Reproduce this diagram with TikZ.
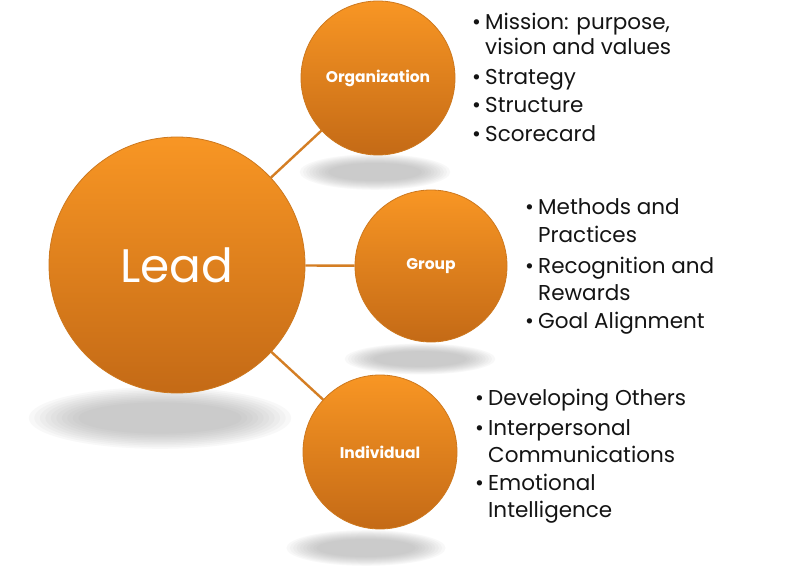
\documentclass[tikz,border=0pt]{standalone}
\usepackage{fontspec}
\setmainfont{Poppins}
\usetikzlibrary{shapes.geometric}
\definecolor{orTop}{RGB}{248,150,36}
\definecolor{orBot}{RGB}{196,106,22}
\definecolor{orEdge}{RGB}{205,120,30}
\definecolor{orLine}{RGB}{212,126,36}
\newcommand{\mysoftshadow}[4]{%
  \foreach \k in {1,...,10}{%
    \fill[black!38, opacity=0.065] (#1,#2) ellipse ({#3*(1.12-0.045*\k)} and {#4*(1.25-0.065*\k)});}}
\tikzset{
  bubble/.style={circle, inner sep=0pt, top color=orTop, bottom color=orBot, draw=orEdge, line width=0.8pt, text=white},
  link/.style={draw=orLine, line width=2.4pt},
  blabel/.style={font=\fontsize{15.5}{18}\selectfont\bfseries},
  item/.style={anchor=base west, align=left, inner sep=0pt, text=black!92}
}
\newcommand{\bul}{\makebox[13pt][l]{•}}
\newcommand{\ind}{\hspace*{13pt}}
\begin{document}
\begin{tikzpicture}[x=1pt,y=-1pt]
\fill[white] (0,0) rectangle (800,577);
\useasboundingbox (0,0) rectangle (800,577);
% shadows
\mysoftshadow{160}{418}{122}{26}
\mysoftshadow{375}{172}{70}{15}
\mysoftshadow{420}{359}{70}{13}
\mysoftshadow{366}{548}{74}{15}
% circles
\node[bubble, minimum size=256pt, font=\fontsize{47}{50}\selectfont] (lead) at (177,265) {Lead};
\node[bubble, minimum size=154pt, blabel] (org) at (378,78) {Organization};
\node[bubble, minimum size=152pt, blabel] (grp) at (431,266) {Group};
\node[bubble, minimum size=154pt, blabel] (ind) at (380,452) {Individual};
% connectors
\draw[link] (lead) -- (org);
\draw[link] (lead) -- (grp);
\draw[link] (lead) -- (ind);
% lists (multi-line nodes are placed by the baseline of their last line)
\node[item, font=\fontsize{21.5}{25}\selectfont] (o1) at (472,55) {\bul Mission: purpose,\\\ind vision and values};
\node[item, font=\fontsize{21.5}{25}\selectfont] (o2) at (472,85) {\bul Strategy};
\node[item, font=\fontsize{21.5}{25}\selectfont] (o3) at (472,113) {\bul Structure};
\node[item, font=\fontsize{21.5}{25}\selectfont] (o4) at (472,142) {\bul Scorecard};
\node[item, font=\fontsize{21.5}{28}\selectfont] (g1) at (525,243) {\bul Methods and\\\ind Practices};
\node[item, font=\fontsize{21.5}{27}\selectfont] (g2) at (525,300) {\bul Recognition and\\\ind Rewards};
\node[item, font=\fontsize{21.5}{27}\selectfont] (g3) at (525,328) {\bul Goal Alignment};
\node[item, font=\fontsize{21.5}{27}\selectfont] (i1) at (475,405) {\bul Developing Others};
\node[item, font=\fontsize{21.5}{27}\selectfont] (i2) at (475,462) {\bul Interpersonal\\\ind Communications};
\node[item, font=\fontsize{21.5}{27}\selectfont] (i3) at (475,517) {\bul Emotional\\\ind Intelligence};
\end{tikzpicture}
\end{document}
